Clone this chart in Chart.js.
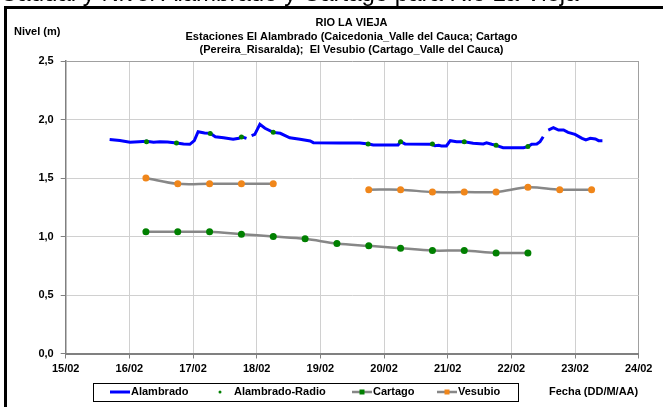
<!DOCTYPE html>
<html>
<head>
<meta charset="utf-8">
<script src="https://cdn.jsdelivr.net/npm/chart.js@4.4.1/dist/chart.umd.min.js"></script>
<style>
	body { margin: 0; background: #ffffff; }
	canvas { display: block; }
</style>
</head>
<body>
<canvas id="canvasriolavieja" width="663" height="407"></canvas>
<script>

// fechas del eje x (dias desde 15/02)
var fechas = ["15/02", "16/02", "17/02", "18/02", "19/02", "20/02", "21/02", "22/02", "23/02", "24/02"];

// Alambrado (nivel continuo), null = sin dato
var alambradoDias = [0.69, 0.85, 1.01, 1.15, 1.27, 1.38, 1.48, 1.60, 1.74, 1.85, 1.95, 2.02, 2.08, 2.18, 2.27, 2.35, 2.48, 2.63, 2.72, 2.76, 2.84, 2.88, 2.92, 2.97, 3.05, 3.13, 3.26, 3.37, 3.52, 3.68, 3.84, 3.89, 4.30, 4.62, 4.76, 4.83, 5.22, 5.26, 5.33, 5.75, 5.80, 5.86, 5.90, 5.98, 6.04, 6.14, 6.26, 6.40, 6.56, 6.61, 6.69, 6.76, 6.87, 7.19, 7.26, 7.32, 7.40, 7.45, 7.50, 7.54, 7.58, 7.66, 7.74, 7.82, 7.89, 8.00, 8.11, 8.17, 8.24, 8.32, 8.37, 8.43];
var alambradoNivel = [1.83, 1.82, 1.805, 1.81, 1.814, 1.805, 1.81, 1.808, 1.80, 1.79, 1.788, 1.82, 1.896, 1.885, 1.882, 1.853, 1.844, 1.831, 1.84, 1.853, 1.839, null, 1.862, 1.873, 1.959, 1.925, 1.89, 1.882, 1.844, 1.831, 1.816, 1.802, 1.80, 1.80, 1.79, 1.782, 1.782, 1.81, 1.791, 1.788, 1.776, 1.779, 1.774, 1.774, 1.819, 1.81, 1.81, 1.797, 1.791, 1.80, 1.788, 1.779, 1.759, 1.759, 1.768, 1.788, 1.791, 1.81, 1.853, null, 1.91, 1.93, 1.91, 1.91, 1.89, 1.873, 1.839, 1.825, 1.839, 1.833, 1.819, 1.819];

// Alambrado-Radio
var radioDias = [1.27, 1.74, 2.27, 2.76, 3.26, 4.75, 5.26, 5.76, 6.26, 6.76, 7.26];
var radioNivel = [1.81, 1.80, 1.88, 1.85, 1.89, 1.79, 1.81, 1.79, 1.81, 1.78, 1.77];

// Cartago
var cartagoDias = [1.26, 1.76, 2.26, 2.76, 3.26, 3.76, 4.26, 4.76, 5.26, 5.76, 6.26, 6.76, 7.26];
var cartagoNivel = [1.04, 1.04, 1.04, 1.02, 1.00, 0.98, 0.94, 0.92, 0.90, 0.88, 0.88, 0.86, 0.86];

// Vesubio
var vesubioDias = [1.26, 1.76, 2.26, 2.76, 3.26, 3.76, 4.26, 4.76, 5.26, 5.76, 6.26, 6.76, 7.26, 7.76, 8.26];
var vesubioNivel = [1.50, 1.45, 1.45, 1.45, 1.45, null, null, 1.40, 1.40, 1.38, 1.38, 1.38, 1.42, 1.40, 1.40];

function puntos(dias, niveles){
	var out = [];
	for (var i = 0; i < dias.length; i++){
		out.push({ x: dias[i], y: niveles[i] });
	}
	return out;
}

var fuente = '"Liberation Sans", Arial, sans-serif';

var textos_plugin = {
	id: 'textos',
	beforeDraw: function(chart){
		var ctx = chart.ctx;
		ctx.save();
		ctx.fillStyle = '#ffffff';
		ctx.fillRect(0, 0, chart.width, chart.height);
		ctx.restore();
	},
	afterDraw: function(chart){
		var ctx = chart.ctx;
		ctx.save();

		// titulo de la diapositiva, cortado arriba
		ctx.fillStyle = '#000000';
		ctx.font = '24px ' + fuente;
		ctx.textAlign = 'left';
		ctx.textBaseline = 'alphabetic';
		ctx.fillText('Caudal y Nivel Alambrado y Cartago para Rio La Vieja', 0, 1);

		// marco
		ctx.strokeStyle = '#000000';
		ctx.lineWidth = 3;
		ctx.strokeRect(5.5, 7.5, 700, 500);

		// titulo del grafico
		ctx.font = 'bold 11px ' + fuente;
		ctx.textAlign = 'center';
		ctx.textBaseline = 'middle';
		ctx.fillText('RIO LA VIEJA', 351.5, 23);
		ctx.fillText('Estaciones El Alambrado (Caicedonia_Valle del Cauca; Cartago', 351.5, 37);
		ctx.fillText('(Pereira_Risaralda);  El Vesubio (Cartago_Valle del Cauca)', 351.5, 50);

		ctx.textAlign = 'left';
		ctx.fillText('Nivel (m)', 14, 32);
		ctx.fillText('Fecha (DD/M/AA)', 549, 392);

		// leyenda
		ctx.lineWidth = 1;
		ctx.strokeStyle = '#000000';
		ctx.strokeRect(93.5, 383.5, 425, 18);

		var ly = 392;
		ctx.lineWidth = 3;
		ctx.strokeStyle = '#0000ff';
		ctx.beginPath(); ctx.moveTo(110, ly); ctx.lineTo(130, ly); ctx.stroke();
		ctx.fillText('Alambrado', 131, ly);

		ctx.fillStyle = '#008000';
		ctx.beginPath(); ctx.arc(220, ly, 1.5, 0, Math.PI * 2); ctx.fill();
		ctx.fillStyle = '#000000';
		ctx.fillText('Alambrado-Radio', 234, ly);

		ctx.lineWidth = 2.5;
		ctx.strokeStyle = '#878787';
		ctx.beginPath(); ctx.moveTo(352, ly); ctx.lineTo(372, ly); ctx.stroke();
		ctx.fillStyle = '#008000';
		ctx.fillRect(359.5, ly - 2.5, 5, 5);
		ctx.fillStyle = '#000000';
		ctx.fillText('Cartago', 373, ly);

		ctx.beginPath(); ctx.moveTo(437, ly); ctx.lineTo(457, ly); ctx.stroke();
		ctx.fillStyle = '#f0861a';
		ctx.fillRect(444.5, ly - 2.5, 5, 5);
		ctx.fillStyle = '#000000';
		ctx.fillText('Vesubio', 458, ly);

		ctx.restore();
	}
};

function init_chart_riolavieja(){

	if( typeof (Chart) === 'undefined'){ return; }

	var chart_line_settings = {
		type: 'line',
		data: {
			datasets: [{
				label: 'Alambrado-Radio',
				data: puntos(radioDias, radioNivel),
				showLine: false,
				pointRadius: 2.5,
				pointBackgroundColor: '#008000',
				pointBorderWidth: 0,
				order: 0
			}, {
				label: 'Alambrado',
				data: puntos(alambradoDias, alambradoNivel),
				borderColor: '#0000ff',
				borderWidth: 3,
				pointRadius: 0,
				tension: 0,
				spanGaps: false,
				order: 1
			}, {
				label: 'Cartago',
				data: puntos(cartagoDias, cartagoNivel),
				borderColor: '#878787',
				borderWidth: 2.5,
				tension: 0.35,
				pointRadius: 3.5,
				pointBackgroundColor: '#008000',
				pointBorderWidth: 0,
				order: 2
			}, {
				label: 'Vesubio',
				data: puntos(vesubioDias, vesubioNivel),
				borderColor: '#878787',
				borderWidth: 2.5,
				tension: 0.35,
				spanGaps: false,
				pointRadius: 3.5,
				pointBackgroundColor: '#f0861a',
				pointBorderWidth: 0,
				order: 3
			}]
		},
		options: {
			responsive: false,
			animation: false,
			layout: { padding: { left: 0, top: 61, right: 24.3, bottom: 0 } },
			plugins: {
				legend: { display: false },
				title: { display: false },
				tooltip: { enabled: false }
			},
			scales: {
				x: {
					type: 'linear',
					min: 0,
					max: 9,
					afterFit: function(scale){ scale.height = 53.5; },
					ticks: {
						stepSize: 1,
						maxRotation: 0,
						padding: 4,
						color: '#000000',
						font: { family: fuente, size: 11, weight: 'bold' },
						callback: function(value){ return fechas[Math.round(value)]; }
					},
					grid: {
						color: function(c){ return c.tick && c.tick.value === 9 ? '#a0a0a0' : '#d0d0d0'; },
						tickColor: '#808080',
						tickLength: 5,
						lineWidth: 1
					},
					border: { color: '#808080', width: 2 }
				},
				y: {
					min: 0,
					max: 2.5,
					afterFit: function(scale){ scale.width = 65.7; },
					ticks: {
						stepSize: 0.5,
						padding: 7,
						color: '#000000',
						font: { family: fuente, size: 11, weight: 'bold' },
						callback: function(value){ return value.toFixed(1).replace('.', ','); }
					},
					grid: {
						color: function(c){ return c.tick && c.tick.value === 2.5 ? '#a0a0a0' : '#d0d0d0'; },
						tickColor: '#808080',
						tickLength: 5,
						lineWidth: 1
					},
					border: { color: '#808080', width: 1.5 }
				}
			}
		},
		plugins: [textos_plugin]
	};

	var chart_element = document.getElementById('canvasriolavieja');
	var chart_line = new Chart(chart_element, chart_line_settings);

}

init_chart_riolavieja();

</script>
</body>
</html>
